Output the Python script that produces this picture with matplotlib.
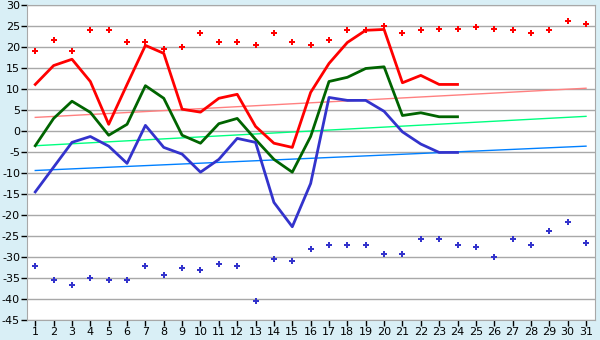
import matplotlib
matplotlib.use("Agg")
import matplotlib.pyplot as plt

plt.rcParams["axes.unicode_minus"] = False

days = list(range(1, 32))

# daily highs / lows (markers)
high_pts = [19.0, 21.8, 19.0, 24.0, 24.0, 21.1, 21.1, 19.5, 19.9, 23.3,
            21.1, 21.1, 20.6, 23.3, 21.1, 20.6, 21.8, 24.0, 24.0, 25.1,
            23.3, 24.0, 24.4, 24.4, 24.9, 24.4, 24.0, 23.3, 24.0, 26.1, 25.6]
low_pts = [-32.2, -35.5, -36.7, -35.1, -35.5, -35.5, -32.2, -34.4, -32.7, -33.2,
           -31.7, -32.2, -40.5, -30.6, -31.0, -28.2, -27.2, -27.2, -27.2, -29.4,
           -29.4, -25.6, -25.6, -27.2, -27.7, -30.1, -25.6, -27.2, -23.9, -21.7, -26.7]

# measured series, days 1..24
line_days = list(range(1, 25))
red_line = [11.1, 15.6, 17.1, 11.8, 1.6, 11.1, 20.4, 18.5, 5.2, 4.5,
            7.8, 8.75, 1.1, -2.9, -3.9, 9.2, 16.1, 21.1, 24.0, 24.2,
            11.5, 13.25, 11.1, 11.1]
green_line = [-3.5, 3.0, 7.1, 4.45, -1.0, 1.6, 10.8, 7.8, -1.0, -2.9,
              1.75, 3.0, -2.0, -6.75, -9.8, -1.3, 11.8, 12.8, 14.9, 15.3,
              3.7, 4.35, 3.4, 3.4]
blue_line = [-14.5, -8.6, -2.7, -1.3, -3.6, -7.7, 1.35, -3.9, -5.5, -9.8,
             -6.75, -1.75, -2.7, -17.0, -22.8, -12.5, 8.0, 7.3, 7.3, 4.7,
             -0.2, -3.1, -5.1, -5.1]

# trend lines (start/end values at day 1 and day 31)
trend_days = [1, 31]
red_trend = [3.25, 10.2]
green_trend = [-3.5, 3.5]
blue_trend = [-9.4, -3.6]

bg = "#d9eff6"
grid_c = "#a8a8a8"

fig = plt.figure(figsize=(6, 3.4), dpi=100, facecolor=bg)
ax = fig.add_axes([0.045, 0.059, 0.947, 0.926])
ax.set_facecolor("white")

ax.plot(trend_days, red_trend, color="#ff8080", lw=1)
ax.plot(trend_days, green_trend, color="#00ff80", lw=1)
ax.plot(trend_days, blue_trend, color="#0080ff", lw=1)

ax.plot(line_days, red_line, color="#ff0000", lw=2)
ax.plot(line_days, green_line, color="#006400", lw=2)
ax.plot(line_days, blue_line, color="#3333cc", lw=2)

ax.plot(days, high_pts, ls="none", marker="P", ms=4.5, color="#ff0000", mew=0)
ax.plot(days, low_pts, ls="none", marker="P", ms=4.5, color="#3333cc", mew=0)

ax.set_xlim(0.55, 31.5)
ax.set_ylim(-45, 30)
ax.set_xticks(days)
ax.set_yticks(range(-45, 31, 5))
ax.yaxis.grid(True, color=grid_c, lw=1)
ax.set_axisbelow(True)
for s in ax.spines.values():
    s.set_color(grid_c)
ax.tick_params(axis="both", colors="black", labelsize=8,
               length=4, width=1, pad=1)

fig.savefig("out.png", dpi=100, facecolor=bg)
